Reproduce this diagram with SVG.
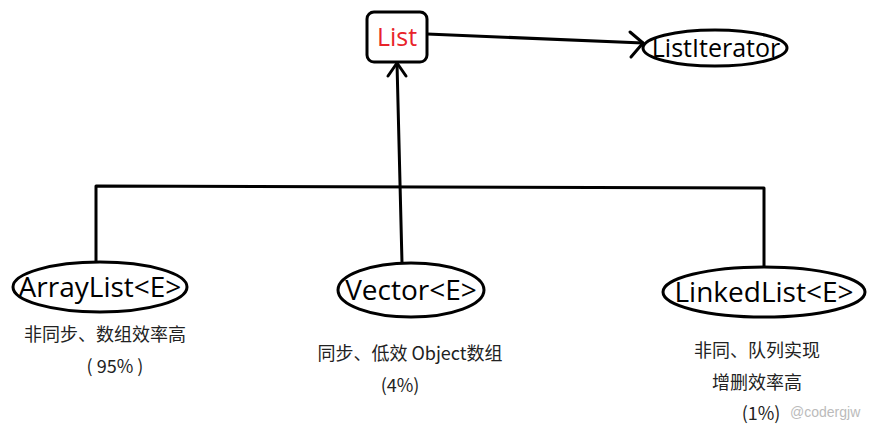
<svg xmlns="http://www.w3.org/2000/svg" width="870" height="429" viewBox="0 0 870 429">
<style>
.ln{fill:none;stroke:#000;stroke-width:3;stroke-linecap:round;stroke-linejoin:round}
.shape{fill:#fff;stroke:#000;stroke-width:3}
.lbl{font-family:"Open Sans","Noto Sans CJK SC",sans-serif;font-size:28px;fill:#000;text-anchor:middle}
.note{font-family:"Noto Sans CJK SC","Noto Sans",sans-serif;font-size:18px;fill:#222;text-anchor:middle}
</style>
<rect width="870" height="429" fill="#fff"/>
<g id="connectors">
<polyline class="ln" points="96,262 96,186 764,188 764,267"/>
<line class="ln" x1="402" y1="263" x2="397" y2="63"/>
<polyline class="ln" points="388,76 397,63 406,76"/>
<line class="ln" x1="427" y1="34" x2="643" y2="43"/>
<polyline class="ln" points="630,32 643,43 631,57"/>
</g>
<g id="List">
<rect class="shape" x="367" y="12" width="60" height="50" rx="7"/>
<text x="397" y="46" class="lbl" style="fill:#e8232a;font-size:25px">List</text>
</g>
<g id="ListIterator">
<ellipse class="shape" cx="715" cy="48" rx="72" ry="18"/>
<text x="716" y="57" class="lbl" style="font-size:25px">ListIterator</text>
</g>
<g id="ArrayList">
<ellipse class="shape" cx="100" cy="287" rx="87" ry="25"/>
<text x="100" y="297" class="lbl">ArrayList&lt;E&gt;</text>
<text x="105" y="341" class="note">非同步、数组效率高</text>
<text x="115" y="373" class="note">( 95% )</text>
</g>
<g id="Vector">
<ellipse class="shape" cx="411" cy="290" rx="73" ry="27"/>
<text x="411" y="300" class="lbl">Vector&lt;E&gt;</text>
<text x="410" y="360" class="note">同步、低效 Object数组</text>
<text x="400" y="392" class="note">(4%)</text>
</g>
<g id="LinkedList">
<ellipse class="shape" cx="764" cy="292" rx="101" ry="25"/>
<text x="764" y="302" class="lbl">LinkedList&lt;E&gt;</text>
<text x="757" y="357" class="note">非同、队列实现</text>
<text x="757" y="389" class="note">增删效率高</text>
<text x="761" y="420" class="note">(1%)</text>
<text x="790" y="417" style="font-family:'Liberation Sans',sans-serif;font-size:14px;fill:#bbb">@codergjw</text>
</g>
</svg>
